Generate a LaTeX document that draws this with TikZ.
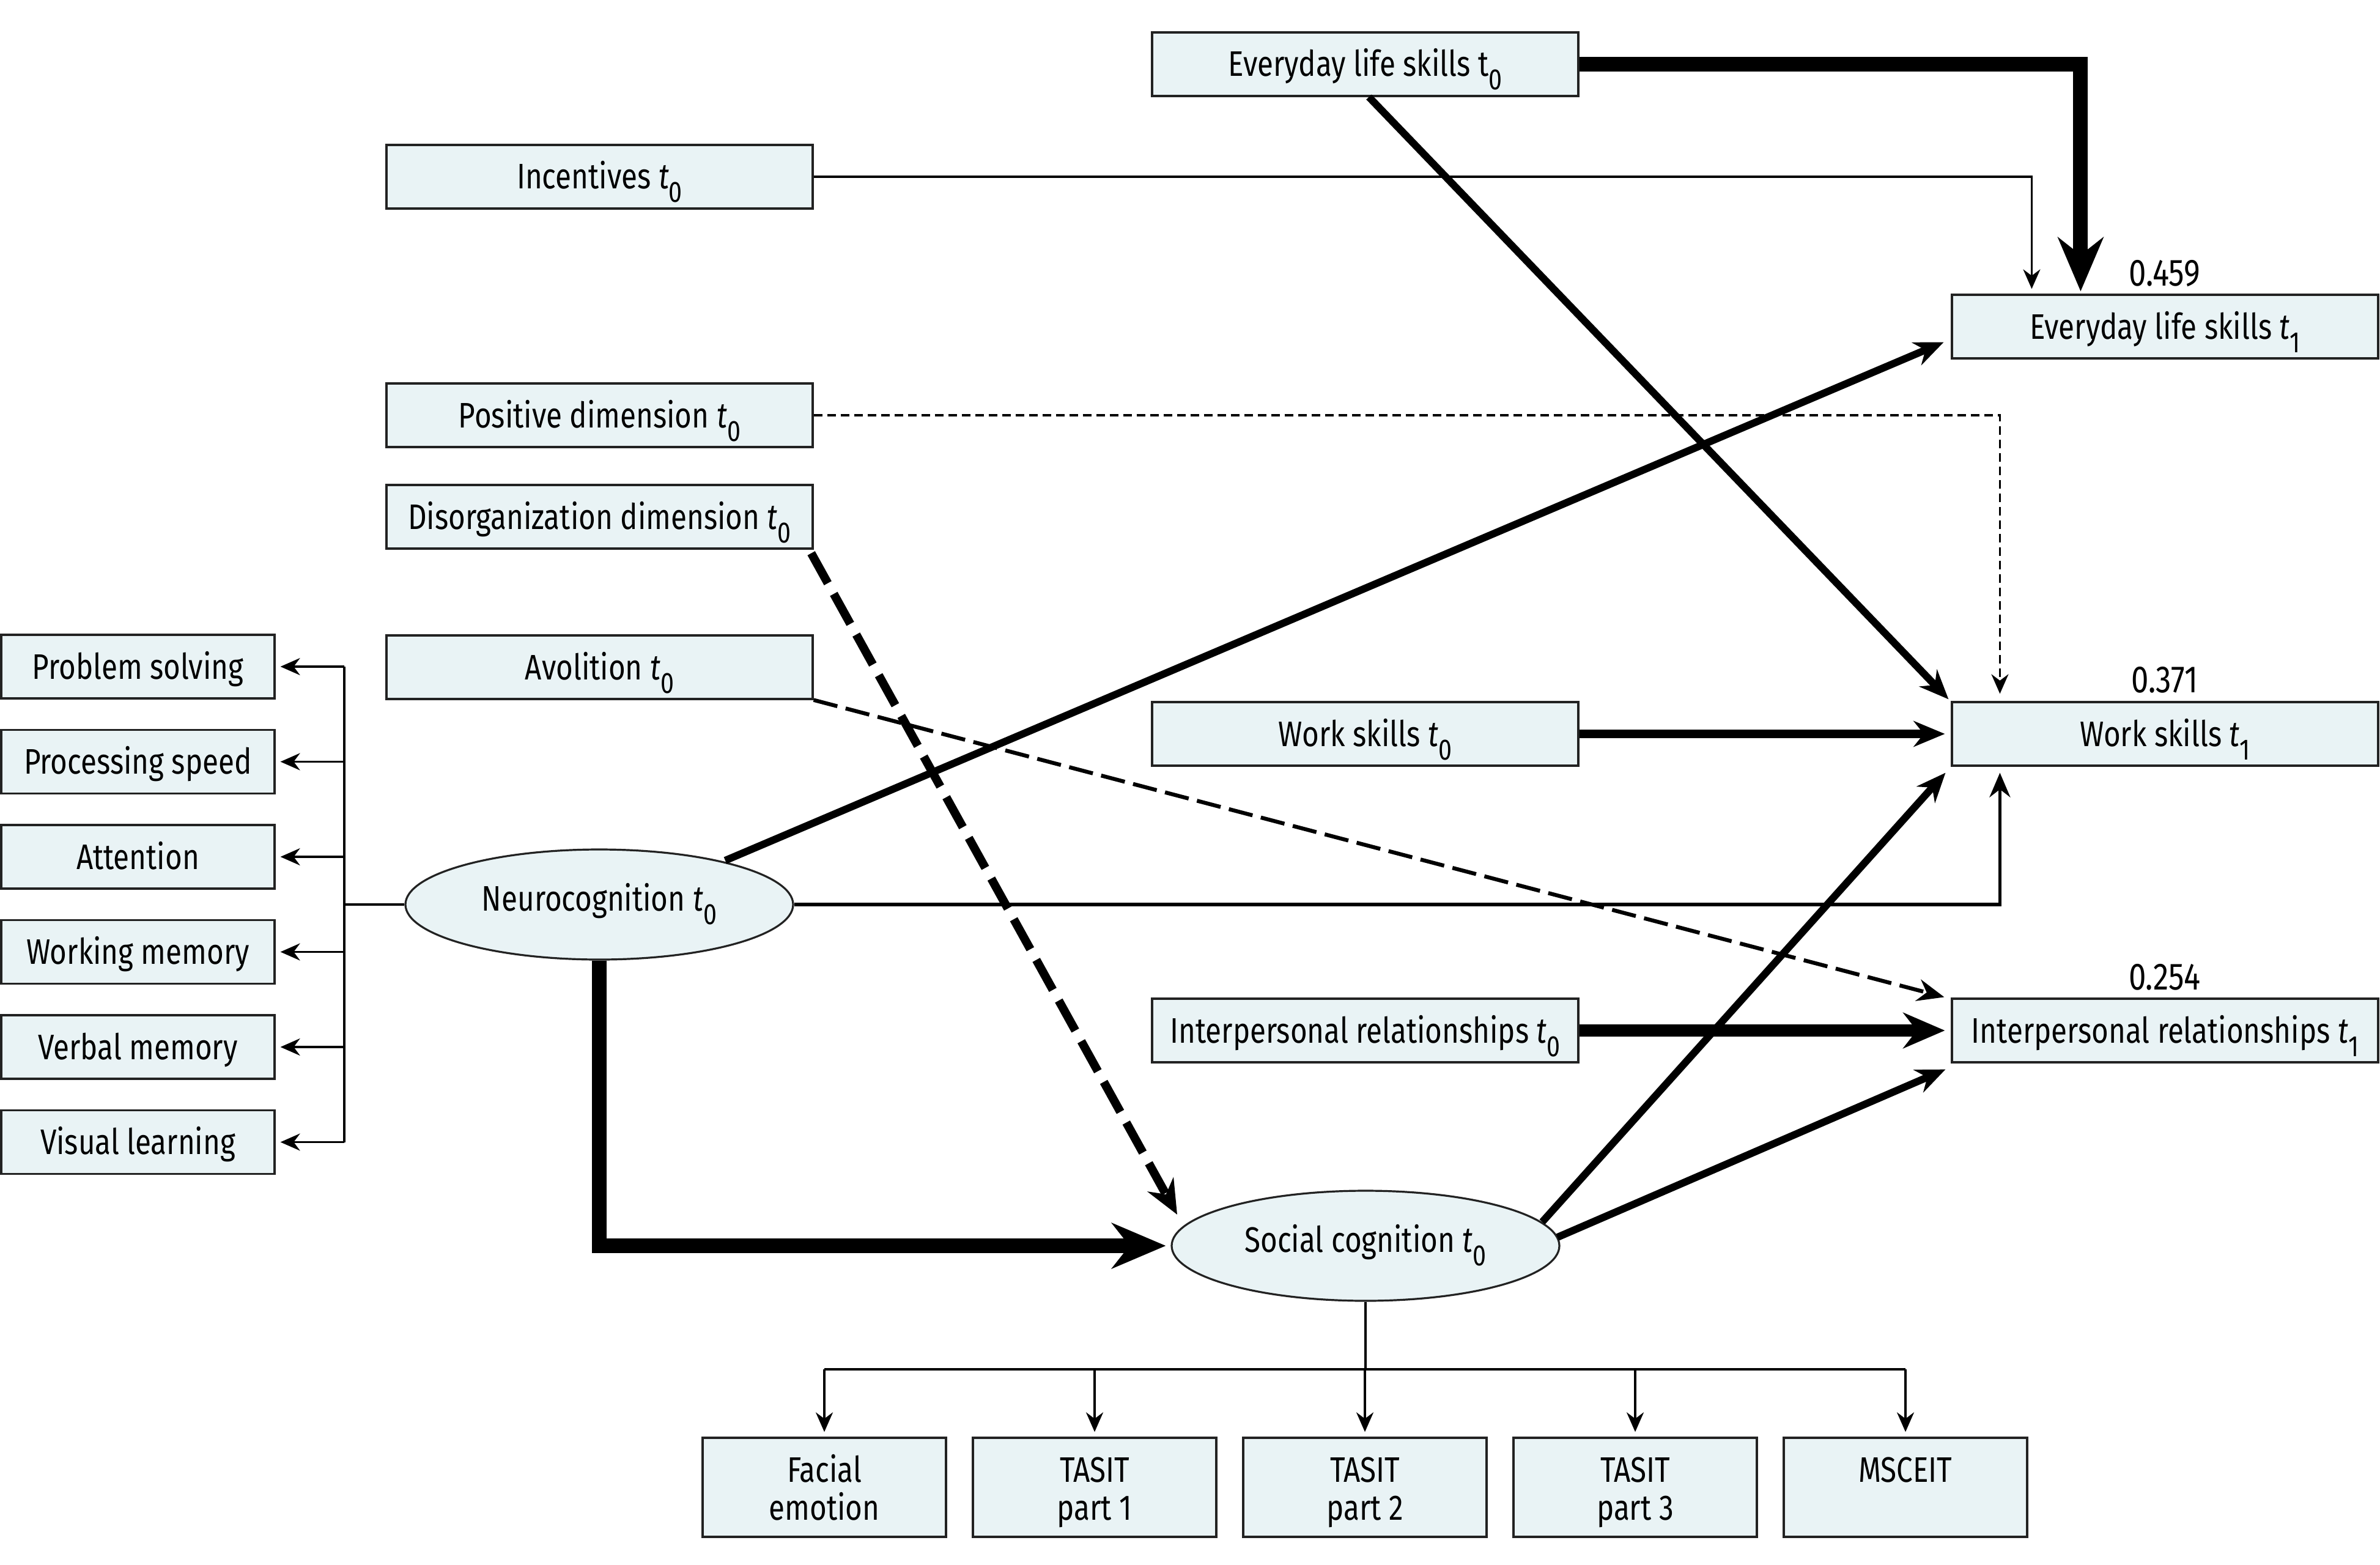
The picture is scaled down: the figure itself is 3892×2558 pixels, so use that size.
\documentclass[tikz,border=0pt]{standalone}
\usepackage{fontspec}
\setmainfont{Fira Sans}[FakeStretch=0.82]
\usetikzlibrary{arrows.meta,shapes.geometric,calc}
\definecolor{boxfill}{HTML}{E9F3F5}
\definecolor{boxline}{HTML}{222222}
\newcommand{\lowsub}[1]{\raisebox{-5.5pt}{\fontsize{12}{12}\selectfont #1}}
\newcommand{\tvar}{\textit{t}}
\newcommand{\topph}{\rule{0pt}{14.4pt}}
\newcommand{\lineph}{\vphantom{lp}}
\begin{document}
\begin{tikzpicture}[x=0.25pt,y=-0.25pt,
  font=\fontsize{14.5}{15.5}\selectfont,
  every node/.style={inner sep=0pt},
  box/.style={rectangle, draw=boxline, line width=0.8pt, fill=boxfill,
    minimum width=174.25pt, minimum height=26pt, text height=10.5pt, text depth=0.5pt},
  lbox/.style={box, minimum width=111.75pt},
  bbox/.style={rectangle, draw=boxline, line width=0.8pt, fill=boxfill,
    minimum width=99.5pt, minimum height=40.5pt, align=center},
  lat/.style={ellipse, draw=boxline, line width=0.8pt, fill=boxfill,
    minimum width=158.5pt, minimum height=45pt, text height=10.5pt, text depth=5.5pt},
  num/.style={anchor=base, font=\fontsize{15.5}{16}\selectfont},
  plain/.style={line width=0.85pt, draw=black},
  cthin/.style={plain, -{Stealth[length=8pt,width=7pt]}, shorten >=2pt},
  cvthick/.style={line width=6pt, -{Stealth[length=22pt,width=18.5pt]}, shorten >=1pt},
  cirt/.style={line width=5pt, -{Stealth[length=17pt,width=14.5pt]}, shorten >=2.5pt},
  cwst/.style={line width=3.5pt, -{Stealth[length=12.75pt,width=10.5pt]}, shorten >=2.5pt},
  cdiag/.style={line width=3pt, -{Stealth[length=12pt,width=10pt]}},
  cmed/.style={line width=1.3pt, -{Stealth[length=10pt,width=8.5pt]}, shorten >=2.5pt},
  cavo/.style={line width=1.6pt, dash pattern=on 10pt off 3.5pt, -{Stealth[length=11pt,width=9pt]}},
  cdis/.style={line width=3.5pt, dash pattern=on 14pt off 5pt, -{Stealth[length=14pt,width=12pt]}},
  cpos/.style={line width=0.85pt, dash pattern=on 3.5pt off 2pt, -{Stealth[length=8pt,width=7pt]}, shorten >=3pt},
]
\useasboundingbox (0,0) rectangle (3892,2558);

% boxes
\node[box] (evt0) at (2232.5,105) {Everyday life skills t\lowsub{0}};
\node[box] (inc)  at (980.5,289) {Incentives \tvar\lowsub{0}};
\node[box] (evt1) at (3540.5,534) {Everyday life skills \tvar\lowsub{1}};
\node[box] (pos)  at (980.5,679) {Positive dimension \tvar\lowsub{0}};
\node[box] (dis)  at (980.5,845) {Disorganization dimension \tvar\lowsub{0}};
\node[box] (avo)  at (980.5,1091) {Avolition \tvar\lowsub{0}};
\node[box] (wst0) at (2232.5,1200) {Work skills \tvar\lowsub{0}};
\node[box] (wst1) at (3540.5,1200) {Work skills \tvar\lowsub{1}};
\node[box] (irt0) at (2232.5,1685) {Interpersonal relationships \tvar\lowsub{0}};
\node[box] (irt1) at (3540.5,1685) {Interpersonal relationships \tvar\lowsub{1}};

\node[num] (n1) at (3540,467) {0.459};
\node[num] (n2) at (3540,1132) {0.371};
\node[num] (n3) at (3540,1618) {0.254};

% left column
\node[lbox] (ps) at (225.5,1090) {Problem solving};
\node[lbox] (sp) at (225.5,1245.5) {Processing speed};
\node[lbox] (at) at (225.5,1401) {Attention};
\node[lbox] (wm) at (225.5,1556.5) {Working memory};
\node[lbox] (vm) at (225.5,1712) {Verbal memory};
\node[lbox] (vl) at (225.5,1867.5) {Visual learning};

% latent variables
\node[lat] (neuro) at (980,1479) {Neurocognition \tvar\lowsub{0}};
\node[lat] (soc) at (2233,2037) {Social cognition \tvar\lowsub{0}};

% bottom boxes
\node[bbox] (fe) at (1348,2432) {\topph Facial\\\lineph emotion};
\node[bbox] (t1) at (1790,2432) {\topph TASIT\\\lineph part 1};
\node[bbox] (t2) at (2232,2432) {\topph TASIT\\\lineph part 2};
\node[bbox] (t3) at (2674,2432) {\topph TASIT\\\lineph part 3};
\node[bbox] (ms) at (3116,2432) {\topph MSCEIT\\\lineph};

% left tree
\coordinate (lt) at (563,1479);
\draw[plain] (neuro.west) -- (lt);
\draw[plain] (lt |- ps.east) -- (lt |- vl.east);
\foreach \b in {ps,sp,at,wm,vm,vl}
  \draw[cthin] (lt |- \b.east) -- (\b.east);

% bottom tree
\coordinate (bt) at (2233,2239);
\draw[plain] (soc.south) -- (bt);
\draw[plain] (bt -| fe.north) -- (bt -| ms.north);
\foreach \b in {fe,t1,t2,t3,ms}
  \draw[cthin] (bt -| \b.north) -- (\b.north);

% paths
\draw[cvthick] (evt0.east) -| ([xshift=53pt]evt1.north west);
\draw[cthin] (inc.east) -| ([xshift=33pt]evt1.north west);
\draw[cdiag] ([xshift=1.5pt]evt0.south) -- ($(wst1.north west)+(-4,-3)$);
\draw[cdiag] ($(neuro.center)+(206,-72)$) -- ($(evt1.south west)+(-12,-28)$);
\draw[cpos] (pos.east) -| ([xshift=20pt]wst1.north west);
\draw[cdis] ($(dis.south east)+(-4,6)$) -- ($(soc.center)+(-308,-51)$);
\draw[cavo] (avo.south east) -- ($(irt1.north west)+(-11,-1)$);
\draw[cwst] (wst0.east) -- (wst1.west);
\draw[cmed] (neuro.east) -| ([xshift=20pt]wst1.south west);
\draw[cvthick, shorten >=2pt] (neuro.south) |- (soc.west);
\draw[cirt] (irt0.east) -- (irt1.west);
\draw[cdiag] ($(soc.center)+(289,-39)$) -- ($(wst1.south west)+(-9,10)$);
\draw[cdiag] ($(soc.center)+(314,-14)$) -- ($(irt1.south west)+(-9,10)$);
\end{tikzpicture}
\end{document}
